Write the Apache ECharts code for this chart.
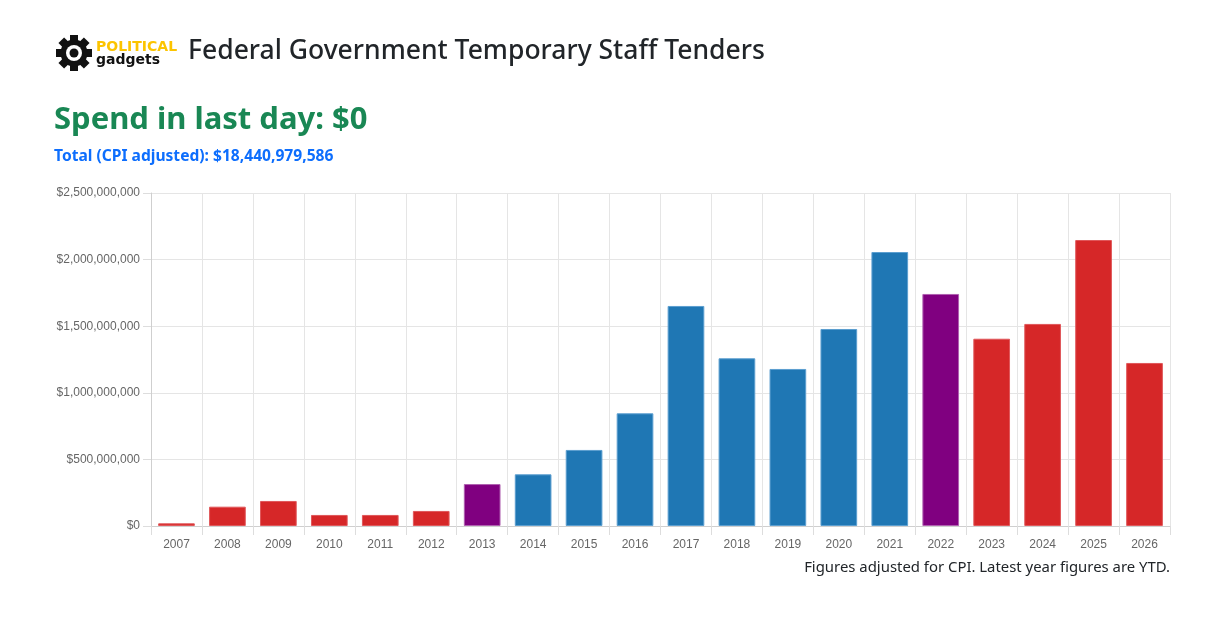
<!DOCTYPE html>
<html>
<head>
<meta charset="utf-8">
<script src="https://cdn.jsdelivr.net/npm/echarts@6/dist/echarts.min.js"></script>
<style>
html,body{margin:0;padding:0;background:#fff;}
#chart{width:1224px;height:629px;}
</style>
</head>
<body>
<div id="chart"></div>
<script>
const years = ['2007','2008','2009','2010','2011','2012','2013','2014','2015','2016','2017','2018','2019','2020','2021','2022','2023','2024','2025','2026'];
const spend = [20e6,145e6,188e6,83e6,83e6,113e6,315e6,388e6,571e6,846e6,1652e6,1259e6,1179e6,1479e6,2057e6,1742e6,1406e6,1517e6,2147e6,1224e6];
const government = ['ALP','ALP','ALP','ALP','ALP','ALP','Mixed','LNP','LNP','LNP','LNP','LNP','LNP','LNP','LNP','Mixed','ALP','ALP','ALP','ALP'];
const yTicks = [0,500e6,1000e6,1500e6,2000e6,2500e6];

const fill = {ALP:'#d62728', LNP:'#1f77b4', Mixed:'#800080'};
const edge = {ALP:'#e0575a', LNP:'#5c9fd0', Mixed:'#b060b0'};

function money(v){ return '$' + Math.round(v).toLocaleString('en-US'); }

const chart = echarts.init(document.getElementById('chart'), null, {renderer:'canvas'});

const gearTeeth = [];
for (let i = 0; i < 8; i++) {
  gearTeeth.push({
    type:'rect', shape:{x:-4, y:-18, width:8, height:8},
    rotation: i*Math.PI/4, style:{fill:'#111'}
  });
}

chart.setOption({
  animation:false,
  textStyle:{fontFamily:'"Liberation Sans", Arial, sans-serif'},
  title:[
    {text:'Federal Government Temporary Staff Tenders', left:188, top:38, padding:0,
     textStyle:{fontFamily:'"Noto Sans", sans-serif', fontSize:26.5, fontWeight:500, color:'#212529'}},
    {text:'Spend in last day: $0', left:54, top:105, padding:0,
     textStyle:{fontFamily:'"Noto Sans", sans-serif', fontSize:31, fontWeight:'bold', color:'#198754'}},
    {text:'Total (CPI adjusted): ' + money(18440979586), left:54, top:149, padding:0,
     textStyle:{fontFamily:'"Noto Sans", sans-serif', fontSize:15.6, fontWeight:'bold', color:'#0d6efd'}},
    {text:'Figures adjusted for CPI. Latest year figures are YTD.', right:54, top:560, padding:0,
     textStyle:{fontFamily:'"Noto Sans", sans-serif', fontSize:14.9, fontWeight:'normal', color:'#212529'}},
    {text:'POLITICAL', left:96, top:40, padding:0,
     textStyle:{fontFamily:'"DejaVu Sans", sans-serif', fontSize:14, fontWeight:'bold', color:'#fcc400'}},
    {text:'gadgets', left:96, top:53, padding:0,
     textStyle:{fontFamily:'"DejaVu Sans", sans-serif', fontSize:14, fontWeight:'bold', color:'#111'}}
  ],
  graphic:[
    {type:'group', x:74, y:53, children: gearTeeth.concat([
      {type:'circle', shape:{cx:0, cy:0, r:13.5}, style:{fill:'#111'}},
      {type:'circle', shape:{cx:0, cy:0, r:8}, style:{fill:'#fff'}},
      {type:'circle', shape:{cx:0, cy:0, r:4.5}, style:{fill:'#111'}}
    ])}
  ],
  grid:{left:151, right:54, top:193, bottom:103, containLabel:false},
  xAxis:{
    type:'category', data:years, boundaryGap:true,
    axisLine:{show:true, lineStyle:{color:'#cfcfcf', width:1}},
    axisTick:{show:true, length:9, lineStyle:{color:'#dddddd'}},
    axisLabel:{color:'#666', fontSize:12, margin:13},
    splitLine:{show:true, lineStyle:{color:'#e5e5e5', width:1}}
  },
  yAxis:{
    type:'value', min:yTicks[0], max:yTicks[yTicks.length-1], interval:yTicks[1]-yTicks[0],
    axisLine:{show:true, lineStyle:{color:'#cfcfcf', width:1}},
    axisTick:{show:true, length:8, lineStyle:{color:'#dddddd'}},
    axisLabel:{color:'#666', fontSize:12, margin:11, formatter:v => money(v)},
    splitLine:{show:true, lineStyle:{color:'#e5e5e5', width:1}}
  },
  series:[{
    type:'bar', barCategoryGap:'28%',
    data: spend.map((v,i) => ({value:v, itemStyle:{color:fill[government[i]], borderColor:edge[government[i]], borderWidth:1}}))
  }]
});
</script>
</body>
</html>
